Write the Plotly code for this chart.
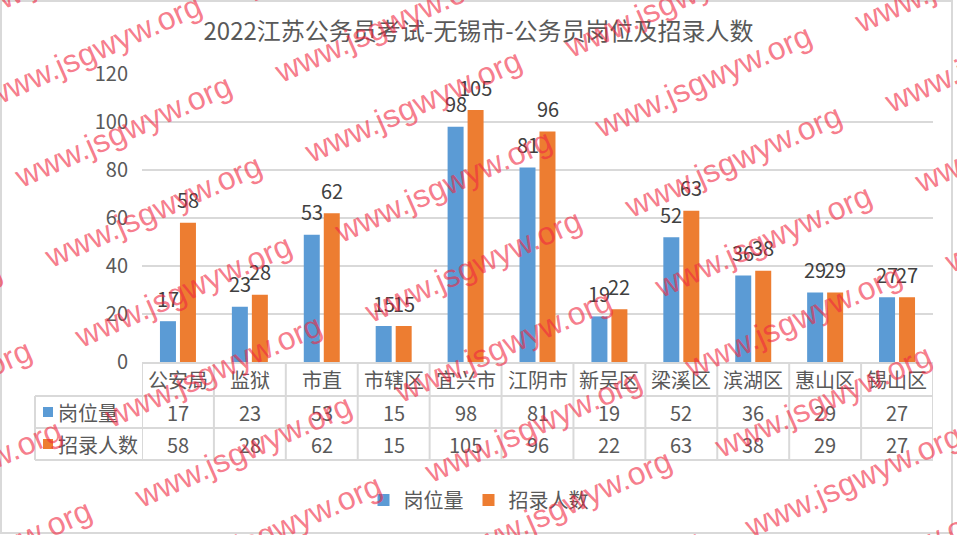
import plotly.graph_objects as go

# ---- data ----
title_text = "2022江苏公务员考试-无锡市-公务员岗位及招录人数"
categories = ["公安局", "监狱", "市直", "市辖区", "宜兴市", "江阴市",
              "新吴区", "梁溪区", "滨湖区", "惠山区", "锡山区"]
posts = [17, 23, 53, 15, 98, 81, 19, 52, 36, 29, 27]
hires = [58, 28, 62, 15, 105, 96, 22, 63, 38, 29, 27]
series_names = ["岗位量", "招录人数"]
y_ticks = [0, 20, 40, 60, 80, 100, 120]
watermark = "www.jsgwyw.org"

# ---- styling ----
BLUE = "#5B9BD5"
ORANGE = "#ED7D31"
GRID = "#D9D9D9"
TXT = "#595959"
DARK = "#404040"
FONT = "Noto Sans CJK SC"

W, H = 957, 535
ML, MR, MT, MB = 142, 24, 74, 173
PW, PH = W - ML - MR, H - MT - MB
BOTTOM = H - MB


def px(x):
    """pixel x -> paper x"""
    return (x - ML) / PW


def py(y):
    """pixel y -> paper y"""
    return (BOTTOM - y) / PH


BARGAP = 0.444
GROUPGAP = 0.2
slot = (1 - BARGAP) / 2          # width of one series slot in category units
offsets = [-slot / 2, slot / 2]  # centre of each series inside a category

fig = go.Figure()
for name, vals, col in [(series_names[0], posts, BLUE), (series_names[1], hires, ORANGE)]:
    fig.add_trace(go.Bar(x=categories, y=vals, name=name, marker_color=col,
                         marker_line_width=0, hoverinfo="x+y+name"))

annotations = []
shapes = []

# value labels above each bar
for k, vals in enumerate([posts, hires]):
    for i, v in enumerate(vals):
        annotations.append(dict(x=i + offsets[k], y=v, xref="x", yref="y",
                                text=str(v), showarrow=False, yshift=23,
                                xanchor="center", yanchor="middle",
                                font=dict(family=FONT, size=20, color=DARK)))

# ---- data table under the plot ----
row_lines = [363, 396, 428, 460]
LEFT = 35
n = len(categories)
# horizontal lines
shapes.append(dict(type="line", xref="paper", yref="paper", x0=0, x1=1,
                   y0=py(row_lines[0]), y1=py(row_lines[0]),
                   line=dict(color=GRID, width=2), layer="above"))
for yl in row_lines[1:]:
    shapes.append(dict(type="line", xref="paper", yref="paper", x0=px(LEFT), x1=1,
                       y0=py(yl), y1=py(yl), line=dict(color=GRID, width=2), layer="above"))
# vertical lines at category boundaries
for i in range(n + 1):
    shapes.append(dict(type="line", xref="x", yref="paper", x0=i - 0.5, x1=i - 0.5,
                       y0=py(row_lines[0]), y1=py(row_lines[-1]),
                       line=dict(color=GRID, width=2), layer="above"))
shapes.append(dict(type="line", xref="paper", yref="paper", x0=px(LEFT), x1=px(LEFT),
                   y0=py(row_lines[1]), y1=py(row_lines[-1]),
                   line=dict(color=GRID, width=2), layer="above"))

row_centres = [(row_lines[j] + row_lines[j + 1]) / 2 for j in range(3)]
for i, c in enumerate(categories):
    annotations.append(dict(x=i, y=py(row_centres[0]), xref="x", yref="paper", text=c,
                            showarrow=False, xanchor="center", yanchor="middle",
                            font=dict(family=FONT, size=20, color=TXT)))
for r, (vals, col, name) in enumerate([(posts, BLUE, series_names[0]),
                                       (hires, ORANGE, series_names[1])]):
    yc = row_centres[r + 1]
    for i, v in enumerate(vals):
        annotations.append(dict(x=i, y=py(yc), xref="x", yref="paper", text=str(v),
                                showarrow=False, xanchor="center", yanchor="middle",
                                font=dict(family=FONT, size=20, color=TXT)))
    shapes.append(dict(type="rect", xref="paper", yref="paper",
                       x0=px(43), x1=px(53), y0=py(yc - 5), y1=py(yc + 5),
                       fillcolor=col, line_width=0, layer="above"))
    annotations.append(dict(x=px(56), y=py(yc), xref="paper", yref="paper", text=name,
                            showarrow=False, xanchor="left", yanchor="middle",
                            font=dict(family=FONT, size=20, color=TXT)))

# ---- outer chart border ----
shapes.append(dict(type="rect", xref="paper", yref="paper",
                   x0=px(1), x1=px(952), y0=py(1), y1=py(533),
                   line=dict(color=GRID, width=2), fillcolor="rgba(0,0,0,0)", layer="above"))

# ---- tiled site watermark ----
for i in range(-1, 5):
    for j in range(-2, 7):
        cx = 123 + 290 * i + 30 * j
        cy = 131 - 25 * i + 80 * j
        if -160 < cx < W + 160 and -70 < cy < H + 70:
            annotations.append(dict(x=px(cx), y=py(cy), xref="paper", yref="paper",
                                    text=watermark, showarrow=False, textangle=-24,
                                    xanchor="center", yanchor="middle",
                                    font=dict(family="Liberation Sans", size=32,
                                              color="rgba(240,40,65,0.62)")))

fig.update_layout(
    width=W, height=H,
    margin=dict(l=ML, r=MR, t=MT, b=MB, autoexpand=False),
    paper_bgcolor="white", plot_bgcolor="white",
    barmode="group", bargap=BARGAP, bargroupgap=GROUPGAP,
    title=dict(text=title_text, x=0.5, xanchor="center", xref="container",
               y=1 - 32 / H, yanchor="middle", yref="container",
               font=dict(family=FONT, size=24, color=TXT)),
    xaxis=dict(type="category", range=[-0.5, n - 0.5], showticklabels=False,
               showgrid=False, zeroline=False, showline=False, fixedrange=True),
    yaxis=dict(range=[0, 120], tickvals=y_ticks, showgrid=True, gridcolor=GRID,
               gridwidth=1.5, zeroline=False, showline=False, ticks="",
               ticklabelstandoff=13,
               tickfont=dict(family=FONT, size=20, color=TXT), fixedrange=True),
    legend=dict(orientation="h", x=0.5, xanchor="center", xref="container",
                y=1 - 500 / H, yanchor="middle", yref="container",
                font=dict(family=FONT, size=20, color=TXT), itemwidth=30),
    annotations=annotations, shapes=shapes,
)

fig.write_html("out.html")
